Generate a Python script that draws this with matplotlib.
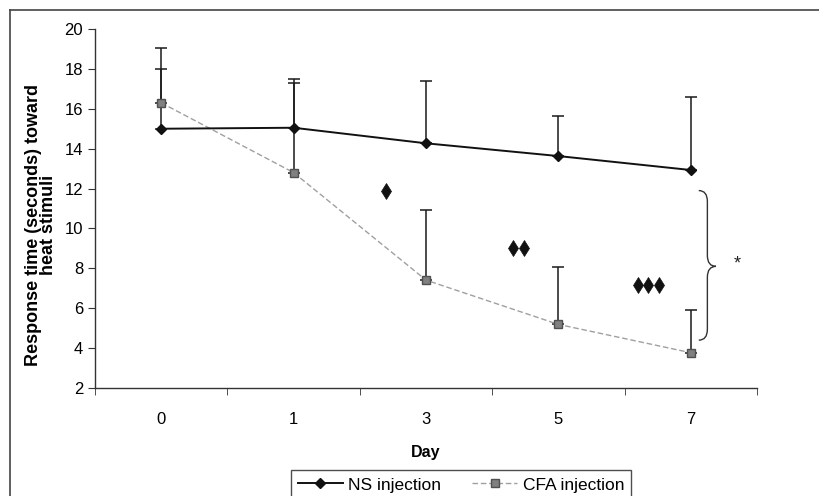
import numpy as np
import matplotlib
matplotlib.use("Agg")
import matplotlib.pyplot as plt
from matplotlib.path import Path
from matplotlib.patches import PathPatch
from matplotlib.lines import Line2D

days = ["0", "1", "3", "5", "7"]
ns_mean = [15.0, 15.05, 14.27, 13.63, 12.93]
ns_err = [3.0, 2.43, 3.13, 2.0, 3.67]
cfa_mean = [16.3, 12.8, 7.41, 5.19, 3.77]
cfa_err = [2.73, 4.48, 3.51, 2.89, 2.14]

# significance marks (number of diamonds, centre position, height)
sig_count = [1, 2, 3]
sig_x = [1.70, 2.70, 3.68]
sig_y = [11.9, 9.03, 7.15]

plt.rcParams["font.family"] = ["Liberation Sans", "DejaVu Sans"]

fig = plt.figure(figsize=(8.2, 4.96), dpi=100)
ax = fig.add_axes([0.1159, 0.2177, 0.8073, 0.7238])

x = np.arange(len(days))

ax.errorbar(x, cfa_mean, yerr=[np.zeros(len(x)), cfa_err], fmt="none",
            ecolor="#1a1a1a", elinewidth=1.1, capsize=4.5, capthick=1.1, zorder=2)
ax.errorbar(x, ns_mean, yerr=[np.zeros(len(x)), ns_err], fmt="none",
            ecolor="#1a1a1a", elinewidth=1.1, capsize=4.5, capthick=1.1, zorder=2)

ax.plot(x, cfa_mean, color="#a0a0a0", linestyle=(0, (4, 2)), linewidth=1.0,
        marker="s", markersize=5.5, markerfacecolor="#808080",
        markeredgecolor="#505050", label="CFA injection", zorder=3)
ax.plot(x, ns_mean, color="#111111", linewidth=1.4, marker="D", markersize=5.5,
        markerfacecolor="#111111", markeredgecolor="#111111",
        label="NS injection", zorder=4)

step = 0.08
for n, sx, sy in zip(sig_count, sig_x, sig_y):
    xs = sx + (np.arange(n) - (n - 1) / 2) * step
    ax.plot(xs, [sy] * n, linestyle="none", marker="d", markersize=8.5,
            markeredgewidth=0.5, markerfacecolor="#111111",
            markeredgecolor="#111111", zorder=4)

# brace for the overall comparison
bx0, bx1, bx2 = 4.06, 4.125, 4.19
btop, bmid, bbot, r = 11.9, 8.1, 4.4, 0.55
verts = [(bx0, btop), (bx1, btop), (bx1, btop - r),
         (bx1, bmid + r), (bx1, bmid), (bx2, bmid),
         (bx1, bmid), (bx1, bmid - r),
         (bx1, bbot + r), (bx1, bbot), (bx0, bbot)]
codes = [Path.MOVETO, Path.CURVE3, Path.CURVE3,
         Path.LINETO, Path.CURVE3, Path.CURVE3,
         Path.CURVE3, Path.CURVE3,
         Path.LINETO, Path.CURVE3, Path.CURVE3]
ax.add_patch(PathPatch(Path(verts, codes), fill=False, edgecolor="#333333",
                       linewidth=1.0, clip_on=False))
ax.text(4.35, 8.2, "*", ha="center", va="center", fontsize=13, color="#222222")

ax.set_xlim(-0.5, 4.5)
ax.set_ylim(2, 20)
ax.set_yticks(np.arange(2, 21, 2))
ax.set_xticks(x)
ax.set_xticklabels(days)
ax.set_xticks(np.arange(-0.5, 4.6, 1), minor=True)
ax.tick_params(axis="x", which="major", length=0, pad=17, labelsize=12)
ax.tick_params(axis="x", which="minor", length=5, direction="out", color="#333333")
ax.tick_params(axis="y", length=5, direction="out", labelsize=12, color="#333333")

for side in ["top", "right"]:
    ax.spines[side].set_visible(False)
for side in ["left", "bottom"]:
    ax.spines[side].set_color("#333333")
    ax.spines[side].set_linewidth(1.0)

ax.set_xlabel("Day", fontsize=11.5, fontweight="bold", labelpad=13)
ax.set_ylabel("Response time (seconds) toward\nheat stimuli", fontsize=13,
              fontweight="bold", linespacing=0.9)
ax.yaxis.set_label_coords(-0.057, 0.455)

handles, labels = ax.get_legend_handles_labels()
leg = fig.legend(handles[::-1], labels[::-1], loc="upper left",
                 bbox_to_anchor=(0.344, 0.069), ncol=2, frameon=True,
                 fancybox=False, edgecolor="#222222", fontsize=12.5,
                 handlelength=2.6, handletextpad=0.3, columnspacing=1.8,
                 borderpad=0.4)
leg.get_frame().set_linewidth(1.0)

# outer frame of the original figure
fig.add_artist(Line2D([10 / 820, 1.0], [1 - 10 / 496, 1 - 10 / 496],
                      transform=fig.transFigure, color="#444444", linewidth=1.2))
fig.add_artist(Line2D([10 / 820, 10 / 820], [0.0, 1 - 10 / 496],
                      transform=fig.transFigure, color="#444444", linewidth=1.2))

fig.savefig("out.png", dpi=100)
